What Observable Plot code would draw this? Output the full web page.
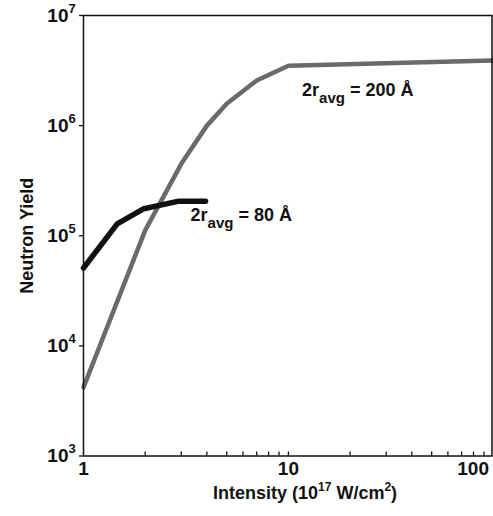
<!DOCTYPE html>
<html>
<head>
<meta charset="utf-8">
<script src="https://cdn.jsdelivr.net/npm/d3@7"></script>
<script src="https://cdn.jsdelivr.net/npm/@observablehq/plot@0.6"></script>
<style>
  html, body { margin: 0; padding: 0; background: #fff; }
  svg { display: block; }
</style>
</head>
<body>
<div id="chart"></div>
<script>
// ---- data ----
const intensity200 = [1, 2, 3, 4, 5, 7, 10, 98.5];
const yield200     = [4.2e3, 1.12e5, 4.5e5, 1.0e6, 1.58e6, 2.57e6, 3.5e6, 3.9e6];
const intensity80  = [1, 1.46, 1.97, 2.92, 3.94];
const yield80      = [5.1e4, 1.28e5, 1.76e5, 2.06e5, 2.06e5];

const seriesNames  = ["80 Å", "200 Å"];
const labelX       = [3.33, 11.66];
const labelY       = [1.35e5, 1.84e6];

const yTickExps    = [3, 4, 5, 6, 7];
const xMinorTicks  = [2, 3, 4, 5, 6, 7, 8, 9, 10, 20, 30, 40, 50, 60, 70, 80, 90];
const xTickLabels  = [1, 10];
const xEndLabel    = "100";
const xMax         = 98.5;

// ---- layout ----
const W = 493, H = 516;
const mL = 83, mR = 1.5, mT = 15, mB = 60.5;
const frameH = H - mT - mB, frameW = W - mL - mR;
const font = "'Liberation Sans', Arial, Helvetica, sans-serif";

const line200 = intensity200.map((x, i) => ({x, y: yield200[i]}));
const line80 = intensity80.map((x, i) => ({x, y: yield80[i]}));
const labels = seriesNames.map((t, i) => ({x: labelX[i], y: labelY[i], t}));

const plot = Plot.plot({
  width: W, height: H,
  marginLeft: mL, marginRight: mR, marginTop: mT, marginBottom: mB,
  style: {fontFamily: font, background: "#fff", color: "#111"},
  x: {type: "log", domain: [1, xMax], axis: null},
  y: {type: "log", domain: [1e3, 1e7], axis: null},
  marks: [
    Plot.line(line200, {x: "x", y: "y", stroke: "#6a6a6a", strokeWidth: 4.5, strokeLinejoin: "miter"}),
    Plot.line(line80, {x: "x", y: "y", stroke: "#111", strokeWidth: 5.5, strokeLinejoin: "miter"}),
    Plot.frame({stroke: "#111", strokeWidth: 1.5}),
    // x minor ticks, pointing inward
    Plot.tickX(xMinorTicks, {x: d => d, stroke: "#111", strokeWidth: 1.3, insetTop: frameH - 4}),
    // y ticks, pointing outward
    Plot.tickY(yTickExps, {y: d => 10 ** d, stroke: "#111", strokeWidth: 1.3, insetRight: frameW - 4, dx: -4}),
    // y tick labels 10^n
    Plot.text(yTickExps, {y: d => 10 ** d, text: () => "10", frameAnchor: "left", textAnchor: "end",
      dx: -15, fontSize: 19, fontWeight: "bold", fill: "#111", className: "ytl"}),
    Plot.text(yTickExps, {y: d => 10 ** d, text: d => String(d), frameAnchor: "left", textAnchor: "start",
      dx: -15, dy: -7, fontSize: 13, fontWeight: "bold", fill: "#111", className: "ytl"}),
    // x tick labels
    Plot.text(xTickLabels, {x: d => d, text: d => String(d), frameAnchor: "bottom", lineAnchor: "top",
      dy: 5, fontSize: 19, fontWeight: "bold", fill: "#111"}),
    Plot.text([xEndLabel], {x: () => xMax, text: d => d, frameAnchor: "bottom", lineAnchor: "top",
      textAnchor: "end", dx: -3, dy: 5, fontSize: 19, fontWeight: "bold", fill: "#111"}),
    // y axis title
    Plot.text(["Neutron Yield"], {text: d => d, frameAnchor: "left", textAnchor: "middle", rotate: -90, dx: -56,
      fontSize: 18, fontWeight: "bold", fill: "#111"}),
    // series labels
    Plot.text(labels, {x: "x", y: "y", text: "t", textAnchor: "start", lineAnchor: "bottom",
      fontSize: 18, fontWeight: "bold", fill: "#111", className: "series-label"})
  ]
});

document.getElementById("chart").appendChild(plot);

// rich text: subscripts in series labels
d3.select(plot).selectAll(".series-label text").each(function () {
  const t = this.textContent;
  const sel = d3.select(this);
  sel.text(null);
  sel.append("tspan").text("2r");
  sel.append("tspan").attr("font-size", 15).attr("dy", 7).text("avg");
  sel.append("tspan").attr("font-size", 18).attr("dy", -7).text(" = " + t);
});

// x axis title with superscripts
const xt = d3.select(plot).append("text")
  .attr("x", 213).attr("y", 499).attr("text-anchor", "start")
  .attr("font-family", font).attr("font-size", 18).attr("font-weight", "bold").attr("fill", "#111");
xt.append("tspan").text("Intensity (10");
xt.append("tspan").attr("font-size", 12).attr("dy", -8).text("17");
xt.append("tspan").attr("font-size", 18).attr("dy", 8).text(" W/cm");
xt.append("tspan").attr("font-size", 12).attr("dy", -8).text("2");
xt.append("tspan").attr("font-size", 18).attr("dy", 8).text(")");
</script>
</body>
</html>
